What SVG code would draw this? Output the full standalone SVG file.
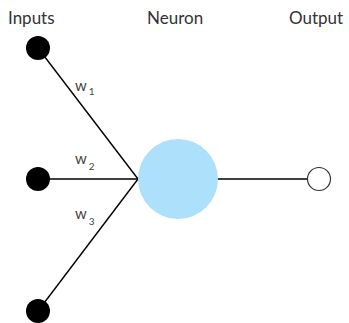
<svg xmlns="http://www.w3.org/2000/svg" width="349" height="323" viewBox="0 0 349 323">
<style>
.title{font-family:Lato,"Open Sans",sans-serif;font-size:17px;fill:#333}
.w{font-family:Lato,"Open Sans",sans-serif;font-size:15px;fill:#444}
.sub{font-size:10px}
.edge{stroke:#000;stroke-width:1.4;fill:none}
.in{fill:#000}
</style>
<rect width="349" height="323" fill="#fff"/>
<g id="connectors">
<line class="edge" x1="38" y1="48" x2="138" y2="179"/>
<line class="edge" x1="38" y1="179" x2="138" y2="179"/>
<line class="edge" x1="38" y1="311" x2="138" y2="179"/>
<line class="edge" x1="178" y1="179" x2="307" y2="179"/>
</g>
<g id="input1"><circle class="in" cx="38" cy="48" r="12"/></g>
<g id="input2"><circle class="in" cx="38" cy="179" r="12"/></g>
<g id="input3"><circle class="in" cx="38" cy="311" r="12"/></g>
<g id="neuron"><circle cx="178" cy="179" r="40" fill="#ade1fb"/></g>
<g id="output"><circle cx="319" cy="179" r="11.5" fill="#fff" stroke="#333" stroke-width="1.2"/></g>
<g id="labels">
<text class="title" x="8" y="24">Inputs</text>
<text class="title" x="147" y="24">Neuron</text>
<text class="title" x="289" y="24">Output</text>
<text class="w" x="75" y="91">w<tspan class="sub" dx="2" dy="4">1</tspan></text>
<text class="w" x="75" y="164">w<tspan class="sub" dx="2" dy="6">2</tspan></text>
<text class="w" x="75" y="219">w<tspan class="sub" dx="2" dy="6">3</tspan></text>
</g>
</svg>
